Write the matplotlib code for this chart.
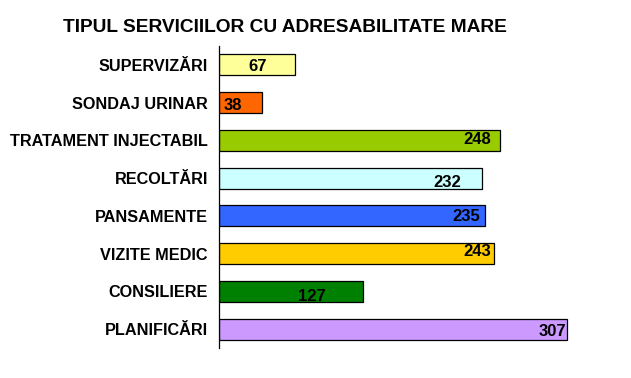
import matplotlib
matplotlib.use("Agg")
import matplotlib.pyplot as plt

categories = ["SUPERVIZĂRI", "SONDAJ URINAR", "TRATAMENT INJECTABIL", "RECOLTĂRI",
              "PANSAMENTE", "VIZITE MEDIC", "CONSILIERE", "PLANIFICĂRI"]
values = [67, 38, 248, 232, 235, 243, 127, 307]
colors = ["#FFFF99", "#FF6600", "#99CC00", "#CCFFFF", "#3366FF", "#FFCC00", "#008000", "#CC99FF"]
title = "TIPUL SERVICIILOR CU ADRESABILITATE MARE"

# label placement (style): x center in data units, vertical offset in points
label_x = [34.4, 12.5, 228, 201.6, 218, 228, 82, 294]
label_dy = [-1.5, -2, 0.5, -3.5, -0.5, 1.5, -4, -1.5]

plt.rcParams['font.family'] = ['Liberation Sans', 'DejaVu Sans']

fig = plt.figure(figsize=(6.31, 3.78), dpi=100)
ax = fig.add_axes([219/631, 1-348/378, (615.8-219)/631, (348-46)/378])

ypos = list(range(len(categories)))
ax.barh(ypos, values, height=0.56, color=colors, edgecolor="black", linewidth=0.9)
ax.set_ylim(len(categories) - 0.5, -0.5)
ax.set_xlim(0, 350)

for i, v in enumerate(values):
    ax.annotate(str(v), (label_x[i], ypos[i]), xytext=(0, label_dy[i]), textcoords="offset points",
                ha="center", va="center", fontsize=12, fontweight="bold", color="black")

ax.set_yticks(ypos)
ax.set_yticklabels(categories, fontsize=11.7, fontweight="bold")
ax.tick_params(axis="y", length=0, pad=8)
ax.set_xticks([])
for s in ["top", "right", "bottom"]:
    ax.spines[s].set_visible(False)
ax.spines["left"].set_linewidth(0.9)

fig.text(285/631, 1-28/378, title, ha="center", va="center", fontsize=13.8, fontweight="bold")

fig.savefig("out.png", dpi=100)
